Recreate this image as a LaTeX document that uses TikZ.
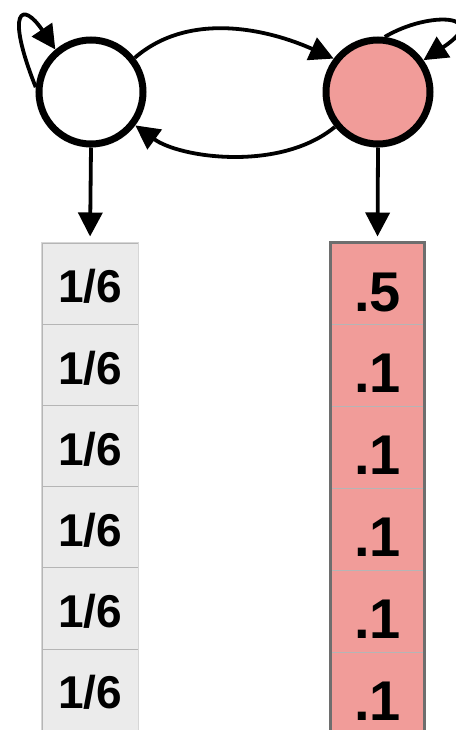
\documentclass[tikz,border=0pt]{standalone}
\usepackage{fontspec}
\setmainfont{Liberation Sans}
\usetikzlibrary{arrows.meta}
\definecolor{pinkfill}{HTML}{F19C99}
\definecolor{greyfill}{HTML}{EBEBEB}
\definecolor{greyedge}{HTML}{D6D6D6}
\definecolor{rowline}{HTML}{B5B5B5}
\definecolor{darkedge}{HTML}{6E6E6E}
\tikzset{
  state/.style={circle, draw=black, line width=7pt, minimum size=104pt, inner sep=0pt},
  conn/.style={line width=3.8pt, -{Triangle[length=24pt,width=24pt]}},
  cellbase/.style={rectangle, inner sep=0pt, minimum width=96pt, text depth=0pt,
    draw=rowline, line width=1pt},
  lcell/.style={cellbase, fill=greyfill, minimum height=81.2pt, text height=38.5pt,
    font=\fontsize{46}{46}\selectfont\bfseries},
  rcell/.style={cellbase, fill=pinkfill, minimum width=93pt, minimum height=81.8pt, text height=54.5pt,
    font=\fontsize{56}{56}\selectfont\bfseries},
}
\begin{document}
\begin{tikzpicture}[x=1pt, y=-1pt]
\useasboundingbox (0,0) rectangle (455,730);

% the two states
\node[state, fill=white] (A) at (91,92) {};
\node[state, fill=pinkfill] (B) at (378,92) {};

% emission tables
\foreach \i/\t in {1/1\slash 6,2/1\slash 6,3/1\slash 6,4/1\slash 6,5/1\slash 6,6/1\slash 6}
  \node[lcell] (l\i) at (90, 243 + 81.2*\i - 40.6) {\t};
\foreach \i/\t in {1/.5,2/.1,3/.1,4/.1,5/.1,6/.1}
  \node[rcell] (r\i) at (377.5, 243 + 81.8*\i - 40.9) {\t};
\draw[greyedge, line width=1.5pt] (l1.north west) rectangle (l6.south east);
\draw[darkedge, line width=2.5pt] (r1.north west) rectangle (r6.south east);

% transitions
\draw[conn] (A.175) .. controls (5,10) and (22,0) .. (A.130);
\draw[conn] (B.83) .. controls (430,10) and (492,15) .. (B.35);
\draw[conn] (A.38) .. controls (190,10) and (270,30) .. (B.143);
\draw[conn] (B.219) .. controls (280,172) and (180,158) .. (A.-37);

% emissions
\draw[conn, shorten >=6pt] (A.south) -- (l1.north);
\draw[conn, shorten >=6pt] (B.south) -- (r1.north);
\end{tikzpicture}
\end{document}
